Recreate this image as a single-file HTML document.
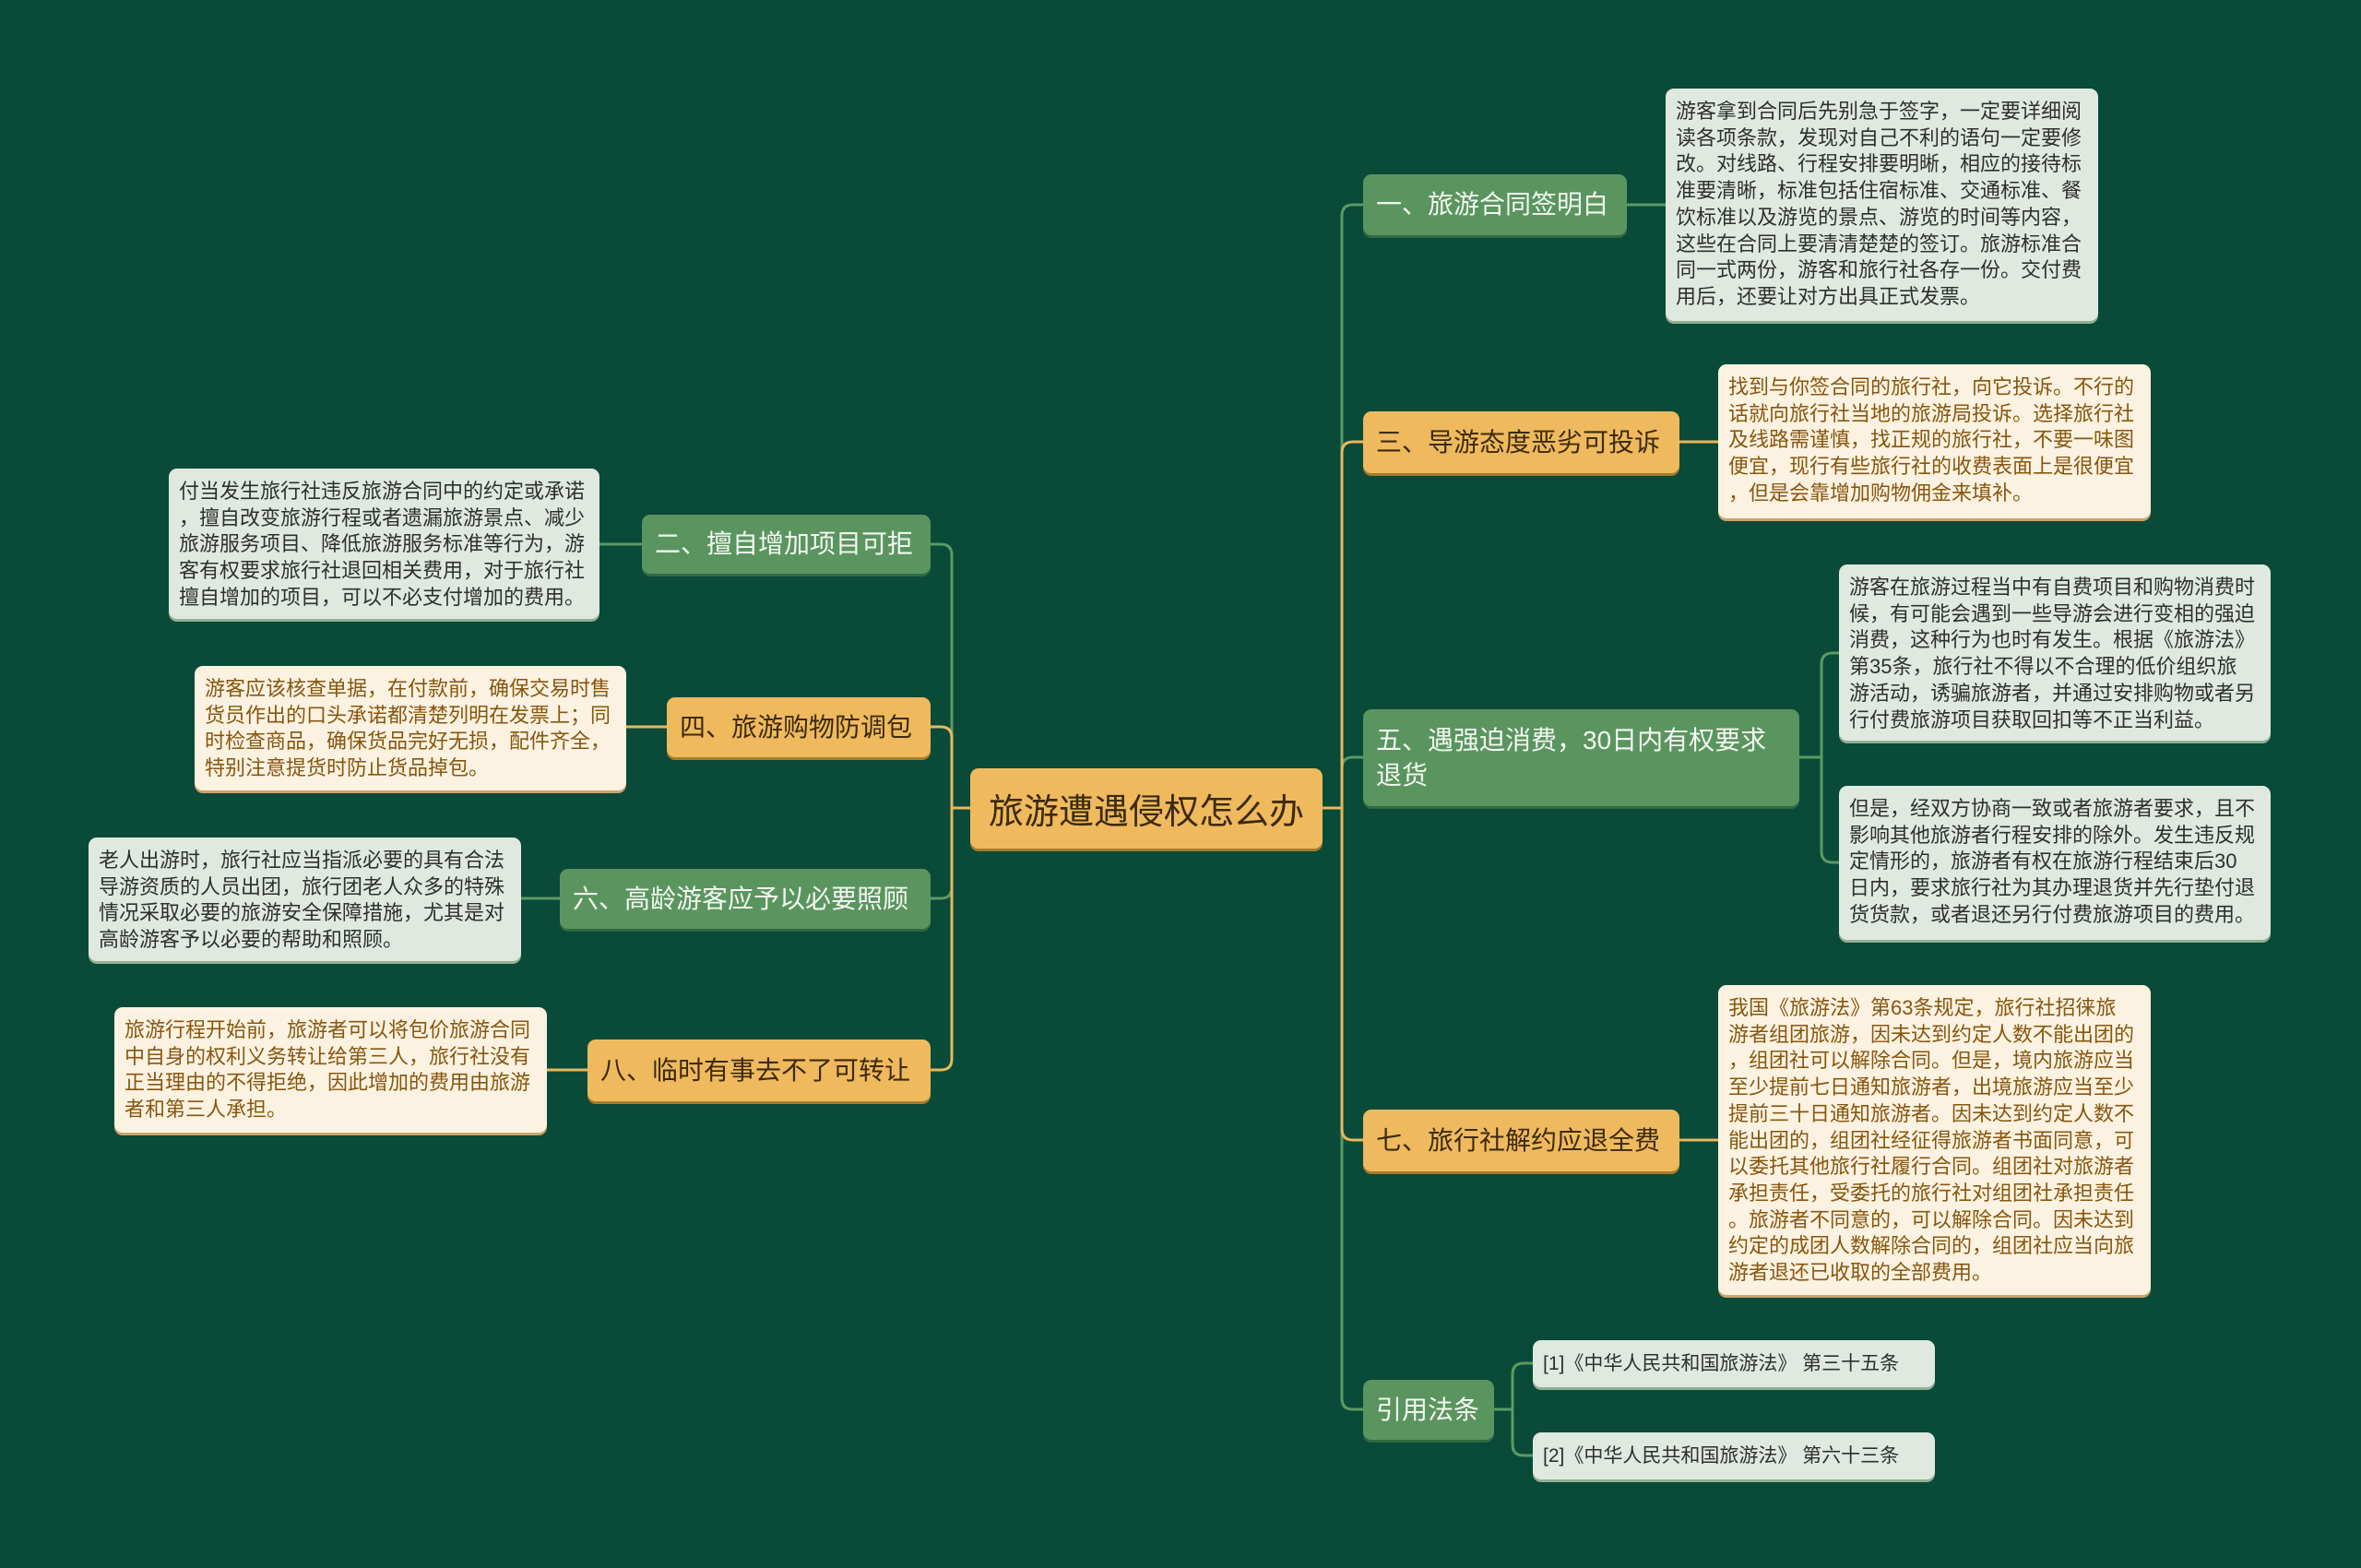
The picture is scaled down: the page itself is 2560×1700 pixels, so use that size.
<!DOCTYPE html>
<html><head><meta charset="utf-8">
<style>
html,body{margin:0;padding:0}
body{width:2560px;height:1700px;background:#0a4a38;position:relative;overflow:hidden;font-family:"Liberation Sans","Noto Sans CJK SC",sans-serif}
.b{position:absolute;box-sizing:border-box;border-radius:9px;display:flex;align-items:center;white-space:nowrap}
.g{background:#5a9560;color:#f4f8f0;box-shadow:0 3px 0 #2f6a40}
.o{background:#efba5e;color:#3d2a0c;box-shadow:0 3px 0 #a67c2c}
.br{font-size:28px;padding-left:14px;line-height:38px}
.d{position:absolute;box-sizing:border-box;border-radius:9px;font-size:22px;line-height:28.7px;padding:11px 11px;white-space:nowrap}
.dg{background:#dfe9e0;color:#2f2f2f;box-shadow:0 3px 0 #8fb094}
.do{background:#fcf2e1;color:#87560e;box-shadow:0 3px 0 #c9a56a}
</style></head><body>
<svg width="2560" height="1700" style="position:absolute;left:0;top:0" fill="none" stroke-width="3">
<g stroke="#5b9a64">
<path d="M1434 876 H1455 V234 Q1455 222 1467 222 H1478"/>
<path d="M1434 876 H1455 V833 Q1455 821 1467 821 H1478"/>
<path d="M1434 876 H1455 V1516 Q1455 1528 1467 1528 H1478"/>
<path d="M1052 876 H1032 V602 Q1032 590 1020 590 H1009"/>
<path d="M1052 876 H1032 V962 Q1032 974 1020 974 H1009"/>
<path d="M1764 222 H1806"/>
<path d="M1951 821 H1975 V720 Q1975 708 1987 708 H1994"/>
<path d="M1975 821 V923 Q1975 935 1987 935 H1994"/>
<path d="M1620 1528 H1640 V1490 Q1640 1478 1652 1478 H1662"/>
<path d="M1640 1528 V1566 Q1640 1578 1652 1578 H1662"/>
<path d="M650 590 H696"/>
<path d="M565 974 H607"/>
</g>
<g stroke="#e8b75c">
<path d="M1434 876 H1455 V491 Q1455 479 1467 479 H1478"/>
<path d="M1434 876 H1455 V1224 Q1455 1236 1467 1236 H1478"/>
<path d="M1052 876 H1032 V800 Q1032 788 1020 788 H1009"/>
<path d="M1052 876 H1032 V1148 Q1032 1160 1020 1160 H1009"/>
<path d="M1821 479 H1863"/>
<path d="M1821 1236 H1863"/>
<path d="M679 788 H723"/>
<path d="M593 1160 H637"/>
</g>
</svg>

<div class="b o" style="left:1052px;top:833px;width:382px;height:87px;font-size:38px;justify-content:center">旅游遭遇侵权怎么办</div>

<div class="b g br" style="left:1478px;top:189px;width:286px;height:66px">一、旅游合同签明白</div>
<div class="b o br" style="left:1478px;top:446px;width:343px;height:67px">三、导游态度恶劣可投诉</div>
<div class="b g br" style="left:1478px;top:769px;width:473px;height:105px">五、遇强迫消费，30日内有权要求<br>退货</div>
<div class="b o br" style="left:1478px;top:1203px;width:343px;height:67px">七、旅行社解约应退全费</div>
<div class="b g br" style="left:1478px;top:1496px;width:142px;height:65px">引用法条</div>
<div class="b g br" style="left:696px;top:558px;width:313px;height:64px">二、擅自增加项目可拒</div>
<div class="b o br" style="left:723px;top:756px;width:286px;height:65px">四、旅游购物防调包</div>
<div class="b g br" style="left:607px;top:942px;width:402px;height:65px">六、高龄游客应予以必要照顾</div>
<div class="b o br" style="left:637px;top:1127px;width:372px;height:67px">八、临时有事去不了可转让</div>

<div class="d dg" style="left:1806px;top:96px;width:469px;height:252px">游客拿到合同后先别急于签字，一定要详细阅<br>读各项条款，发现对自己不利的语句一定要修<br>改。对线路、行程安排要明晰，相应的接待标<br>准要清晰，标准包括住宿标准、交通标准、餐<br>饮标准以及游览的景点、游览的时间等内容，<br>这些在合同上要清清楚楚的签订。旅游标准合<br>同一式两份，游客和旅行社各存一份。交付费<br>用后，还要让对方出具正式发票。</div>
<div class="d do" style="left:1863px;top:395px;width:469px;height:167px">找到与你签合同的旅行社，向它投诉。不行的<br>话就向旅行社当地的旅游局投诉。选择旅行社<br>及线路需谨慎，找正规的旅行社，不要一味图<br>便宜，现行有些旅行社的收费表面上是很便宜<br>，但是会靠增加购物佣金来填补。</div>
<div class="d dg" style="left:1994px;top:612px;width:468px;height:191px">游客在旅游过程当中有自费项目和购物消费时<br>候，有可能会遇到一些导游会进行变相的强迫<br>消费，这种行为也时有发生。根据《旅游法》<br>第35条，旅行社不得以不合理的低价组织旅<br>游活动，诱骗旅游者，并通过安排购物或者另<br>行付费旅游项目获取回扣等不正当利益。</div>
<div class="d dg" style="left:1994px;top:852px;width:468px;height:167px">但是，经双方协商一致或者旅游者要求，且不<br>影响其他旅游者行程安排的除外。发生违反规<br>定情形的，旅游者有权在旅游行程结束后30<br>日内，要求旅行社为其办理退货并先行垫付退<br>货货款，或者退还另行付费旅游项目的费用。</div>
<div class="d do" style="left:1863px;top:1068px;width:469px;height:336px">我国《旅游法》第63条规定，旅行社招徕旅<br>游者组团旅游，因未达到约定人数不能出团的<br>，组团社可以解除合同。但是，境内旅游应当<br>至少提前七日通知旅游者，出境旅游应当至少<br>提前三十日通知旅游者。因未达到约定人数不<br>能出团的，组团社经征得旅游者书面同意，可<br>以委托其他旅行社履行合同。组团社对旅游者<br>承担责任，受委托的旅行社对组团社承担责任<br>。旅游者不同意的，可以解除合同。因未达到<br>约定的成团人数解除合同的，组团社应当向旅<br>游者退还已收取的全部费用。</div>
<div class="d dg" style="left:1662px;top:1453px;width:436px;height:51px;font-size:21px;line-height:29px">[1]《中华人民共和国旅游法》 第三十五条</div>
<div class="d dg" style="left:1662px;top:1553px;width:436px;height:51px;font-size:21px;line-height:29px">[2]《中华人民共和国旅游法》 第六十三条</div>

<div class="d dg" style="left:183px;top:508px;width:467px;height:163px">付当发生旅行社违反旅游合同中的约定或承诺<br>，擅自改变旅游行程或者遗漏旅游景点、减少<br>旅游服务项目、降低旅游服务标准等行为，游<br>客有权要求旅行社退回相关费用，对于旅行社<br>擅自增加的项目，可以不必支付增加的费用。</div>
<div class="d do" style="left:211px;top:722px;width:468px;height:135px">游客应该核查单据，在付款前，确保交易时售<br>货员作出的口头承诺都清楚列明在发票上；同<br>时检查商品，确保货品完好无损，配件齐全，<br>特别注意提货时防止货品掉包。</div>
<div class="d dg" style="left:96px;top:908px;width:469px;height:134px">老人出游时，旅行社应当指派必要的具有合法<br>导游资质的人员出团，旅行团老人众多的特殊<br>情况采取必要的旅游安全保障措施，尤其是对<br>高龄游客予以必要的帮助和照顾。</div>
<div class="d do" style="left:124px;top:1092px;width:469px;height:136px">旅游行程开始前，旅游者可以将包价旅游合同<br>中自身的权利义务转让给第三人，旅行社没有<br>正当理由的不得拒绝，因此增加的费用由旅游<br>者和第三人承担。</div>
</body></html>
